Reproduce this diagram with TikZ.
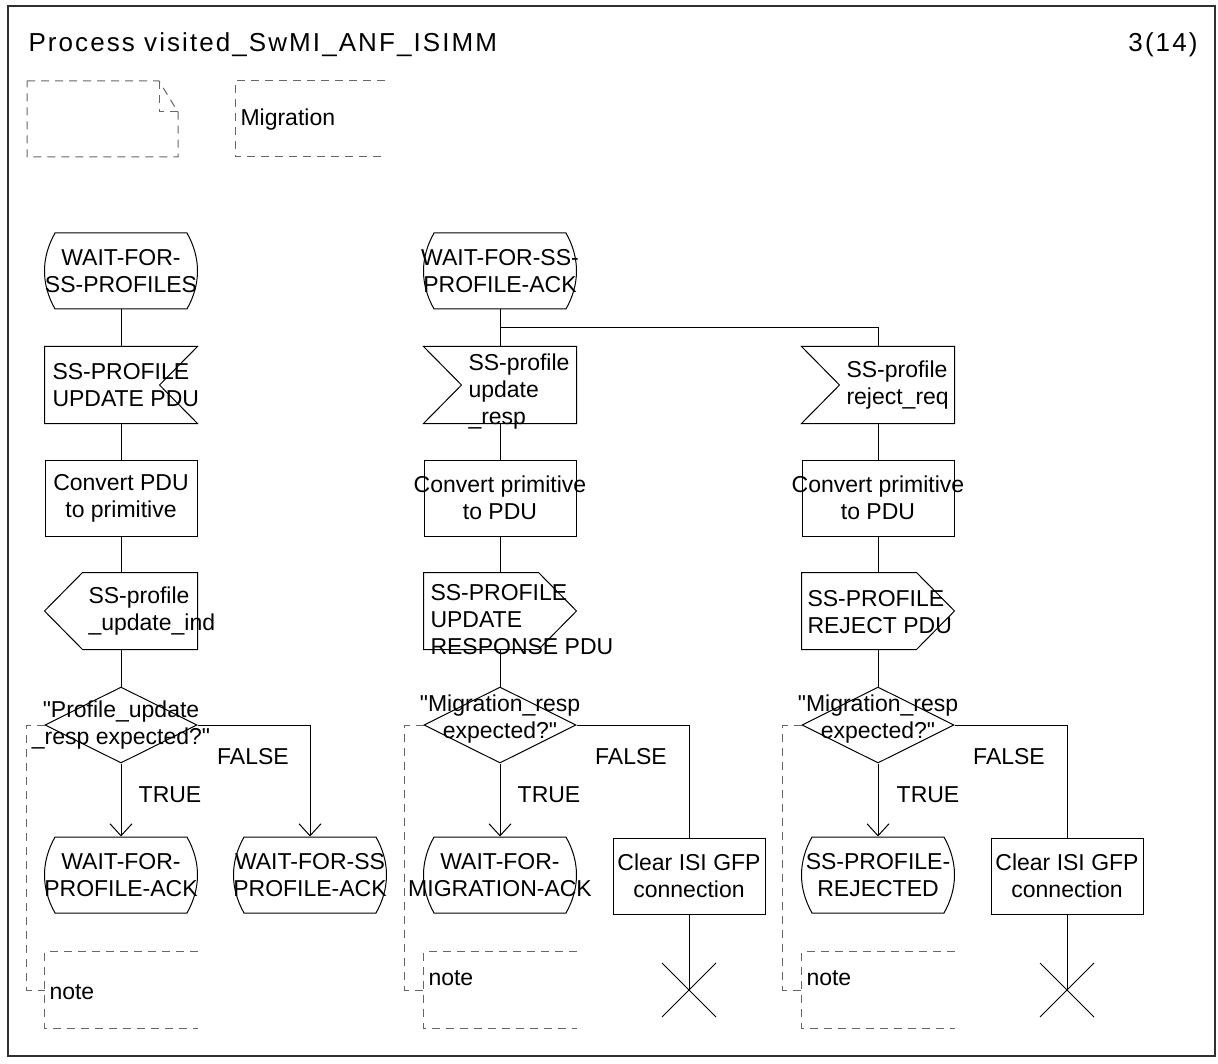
\documentclass[tikz,border=0pt]{standalone}
\definecolor{SdlLine}{HTML}{000000}
\definecolor{SdlDash}{HTML}{666666}
\definecolor{SdlFrame}{HTML}{303030}
\usepackage{fontspec}
\setmainfont{Liberation Sans}
\usepackage{tikz}
\usetikzlibrary{arrows.meta,shapes.geometric}
\newcommand{\sdlfont}{\fontsize{23}{27}\selectfont}
\newcommand{\sdltitlefont}{\fontsize{26}{30}\selectfont\addfontfeatures{LetterSpace=8}}
\newcommand{\q}{\textquotedbl}

\begin{document}
\begin{tikzpicture}[x=1pt,y=-1pt,line width=1pt,draw=SdlLine,
    every node/.style={inner sep=0pt},
    sdltext/.style={font=\sdlfont,align=center},
    sdlbox/.style={minimum width=152pt,minimum height=76pt},
    sdltask/.style={draw,rectangle,minimum width=152pt,minimum height=76pt},
    sdldec/.style={draw,diamond,minimum width=152pt,minimum height=76pt},
    sdlstop/.style={minimum size=53pt},
    notedash/.style={draw=SdlDash,dash pattern=on 8pt off 6pt},
    flowarr/.style={-{Straight Barb[length=12pt,width=22pt]}}]
  \useasboundingbox (0,0) rectangle (1218,1064);
  \draw[SdlFrame,line width=1.5pt] (8,6) rectangle (1215,1056);
  \node[font=\sdltitlefont,anchor=west] (title) at (28,45) {Process visited\_SwMI\_ANF\_ISIMM};
  \node[font=\sdltitlefont,anchor=east] (page) at (1198,45) {3(14)};

  % text symbol and comment
  \draw[notedash] (27,81) -- (159,81) -- (178,112) -- (178,157) -- (27,157) -- cycle;
  \draw[notedash] (159,81) -- (159,112) -- (178,112);
  \node[sdltext,anchor=west] (mig) at (240,120) {Migration};
  \draw[notedash] (385,81) -- (235,81) -- (235,157) -- (385,157);

  % left column
  \node[sdlbox] (st1) at (121,271) {};
  \node[sdltext] (st1t) at (121,271) {WAIT-FOR-\\SS-PROFILES};
  \node[sdlbox] (in1) at (121,385) {};
  \node[sdltext,align=left,anchor=west] (in1t) at (52,385) {SS-PROFILE\\UPDATE PDU};
  \node[sdltask] (tk1) at (121,498) {};
  \node[sdltext] (tk1t) at (121,498) {Convert PDU\\to primitive};
  \node[sdlbox] (ou1) at (121,611) {};
  \node[sdltext,align=left,anchor=west] (ou1t) at (88,611) {SS-profile\\\_update\_ind};
  \node[sdldec] (de1) at (121,725) {};
  \node[sdltext] (de1t) at (121,725) {\q Profile\_update\\\_resp expected?\q};
  \node[sdltext] (tr1) at (170,795) {TRUE};
  \node[sdltext] (fa1) at (253,757) {FALSE};
  \node[sdlbox] (st2) at (121,875) {};
  \node[sdltext] (st2t) at (121,875) {WAIT-FOR-\\PROFILE-ACK};
  \node[sdlbox] (st3) at (310,875) {};
  \node[sdltext] (st3t) at (310,875) {WAIT-FOR-SS\\PROFILE-ACK};
  \node[sdlbox] (nt1) at (121,990) {};
  \node[sdltext,anchor=west] (nt1t) at (49,992) {note};

  % middle column
  \node[sdlbox] (st4) at (500,271) {};
  \node[sdltext] (st4t) at (500,271) {WAIT-FOR-SS-\\PROFILE-ACK};
  \coordinate (j1) at (500,328);
  \node[sdlbox] (in2) at (500,385) {};
  \node[sdltext,align=left,anchor=west] (in2t) at (468,392) {SS-profile\\update\\\_resp};
  \node[sdltask] (tk2) at (500,498) {};
  \node[sdltext] (tk2t) at (500,498) {Convert primitive\\to PDU};
  \node[sdlbox] (ou2) at (500,611) {};
  \node[sdltext,align=left,anchor=west] (ou2t) at (430,620) {SS-PROFILE\\UPDATE\\RESPONSE PDU};
  \node[sdldec] (de2) at (500,725) {};
  \node[sdltext] (de2t) at (500,719) {\q Migration\_resp\\expected?\q};
  \node[sdltext] (tr2) at (549,795) {TRUE};
  \node[sdltext] (fa2) at (631,757) {FALSE};
  \node[sdlbox] (st5) at (500,875) {};
  \node[sdltext] (st5t) at (500,875) {WAIT-FOR-\\MIGRATION-ACK};
  \node[sdltask] (tk3) at (689,876) {};
  \node[sdltext] (tk3t) at (689,876) {Clear ISI GFP\\connection};
  \node[sdlstop] (x1) at (689,990) {};
  \node[sdlbox] (nt2) at (500,990) {};
  \node[sdltext,anchor=west] (nt2t) at (428,978) {note};

  % right column
  \node[sdlbox] (in3) at (878,385) {};
  \node[sdltext,align=left,anchor=west] (in3t) at (846,385) {SS-profile\\reject\_req};
  \node[sdltask] (tk4) at (878,498) {};
  \node[sdltext] (tk4t) at (878,498) {Convert primitive\\to PDU};
  \node[sdlbox] (ou3) at (878,611) {};
  \node[sdltext,align=left,anchor=west] (ou3t) at (807,612) {SS-PROFILE\\REJECT PDU};
  \node[sdldec] (de3) at (878,725) {};
  \node[sdltext] (de3t) at (878,719) {\q Migration\_resp\\expected?\q};
  \node[sdltext] (tr3) at (928,795) {TRUE};
  \node[sdltext] (fa3) at (1009,757) {FALSE};
  \node[sdlbox] (st6) at (878,875) {};
  \node[sdltext] (st6t) at (878,875) {SS-PROFILE-\\REJECTED};
  \node[sdltask] (tk5) at (1067,876) {};
  \node[sdltext] (tk5t) at (1067,876) {Clear ISI GFP\\connection};
  \node[sdlstop] (x2) at (1067,990) {};
  \node[sdlbox] (nt3) at (878,990) {};
  \node[sdltext,anchor=west] (nt3t) at (806,978) {note};

  % symbol outlines
  \foreach \s in {st1,st2,st3,st4,st5,st6}
    \draw ([shift={(-66,-38)}]\s.center) -- ([shift={(66,-38)}]\s.center)
      .. controls ([shift={(80,-13)}]\s.center) and ([shift={(80,13)}]\s.center) .. ([shift={(66,38)}]\s.center)
      -- ([shift={(-66,38)}]\s.center)
      .. controls ([shift={(-80,13)}]\s.center) and ([shift={(-80,-13)}]\s.center) .. cycle;
  \draw (in1.north west) -- (in1.north east) -- ([xshift=-38pt]in1.east) -- (in1.south east)
    -- (in1.south west) -- cycle;
  \foreach \n in {in2,in3}
    \draw (\n.north west) -- (\n.north east) -- (\n.south east) -- (\n.south west)
      -- ([xshift=38pt]\n.west) -- cycle;
  \draw ([xshift=38pt]ou1.north west) -- (ou1.north east) -- (ou1.south east)
    -- ([xshift=38pt]ou1.south west) -- (ou1.west) -- cycle;
  \foreach \n in {ou2,ou3}
    \draw (\n.north west) -- ([xshift=-38pt]\n.north east) -- (\n.east)
      -- ([xshift=-38pt]\n.south east) -- (\n.south west) -- cycle;
  \foreach \x in {x1,x2}
    \draw (\x.north west) -- (\x.south east) (\x.north east) -- (\x.south west);
  \foreach \n in {nt1,nt2,nt3}
    \draw[notedash] (\n.north east) -- (\n.north west) -- (\n.south west) -- (\n.south east);

  % flow lines
  \draw (st1.south) -- (in1.north);
  \draw (in1.south) -- (tk1.north);
  \draw (tk1.south) -- (ou1.north);
  \draw (ou1.south) -- (de1.north);
  \draw[flowarr] (de1.south) -- (st2.north);
  \draw[flowarr] (de1.east) -| (st3.north);
  \draw[notedash] (de1.west) -- ++(-18,0) |- (nt1.west);

  \draw (st4.south) -- (in2.north);
  \draw (j1) -| (in3.north);
  \draw (in2.south) -- (tk2.north);
  \draw (tk2.south) -- (ou2.north);
  \draw (ou2.south) -- (de2.north);
  \draw[flowarr] (de2.south) -- (st5.north);
  \draw (de2.east) -| (tk3.north);
  \draw (tk3.south) -- (x1.center);
  \draw[notedash] (de2.west) -- ++(-19,0) |- (nt2.west);

  \draw (in3.south) -- (tk4.north);
  \draw (tk4.south) -- (ou3.north);
  \draw (ou3.south) -- (de3.north);
  \draw[flowarr] (de3.south) -- (st6.north);
  \draw (de3.east) -| (tk5.north);
  \draw (tk5.south) -- (x2.center);
  \draw[notedash] (de3.west) -- ++(-19,0) |- (nt3.west);
\end{tikzpicture}
\end{document}
